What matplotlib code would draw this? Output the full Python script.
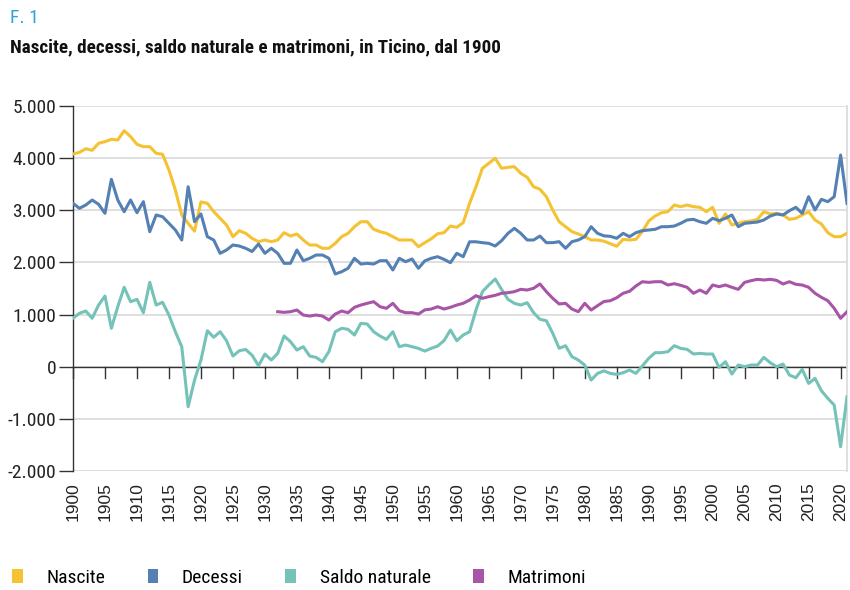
import matplotlib
matplotlib.use("Agg")
import matplotlib.pyplot as plt
from matplotlib import font_manager as fm
from matplotlib.font_manager import FontProperties
from matplotlib.patches import Patch

years = list(range(1900, 2022))

nascite = [4080, 4110, 4180, 4150, 4285, 4316, 4361, 4348, 4527, 4412,
           4265, 4220, 4220, 4093, 4074, 3773, 3389, 2910, 2750, 2600,
           3160, 3134, 2973, 2846, 2718, 2493, 2608, 2558, 2463, 2398,
           2430, 2398, 2430, 2570, 2506, 2545, 2430, 2334, 2334, 2271,
           2271, 2366, 2494, 2558, 2685, 2781, 2781, 2635, 2590, 2558,
           2494, 2430, 2430, 2430, 2302, 2378, 2453, 2550, 2570, 2698,
           2673, 2762, 3134, 3452, 3805, 3901, 3997, 3805, 3825, 3836,
           3709, 3633, 3452, 3403, 3261, 3005, 2781, 2685, 2590, 2545,
           2494, 2430, 2430, 2408, 2360, 2310, 2443, 2430, 2443, 2590,
           2794, 2890, 2954, 2973, 3101, 3069, 3101, 3069, 3057, 2973,
           3057, 2750, 2929, 2718, 2750, 2781, 2794, 2826, 2973, 2929,
           2942, 2910, 2826, 2846, 2910, 2973, 2814, 2737, 2570, 2494,
           2494, 2558]

decessi = [3134, 3038, 3101, 3197, 3115, 2942, 3594, 3197, 2973, 3197,
           2954, 3165, 2590, 2910, 2877, 2750, 2622, 2430, 3452, 2781,
           2929, 2494, 2430, 2175, 2238, 2334, 2315, 2270, 2210, 2353,
           2175, 2271, 2175, 1983, 1983, 2238, 2033, 2079, 2142, 2142,
           2079, 1778, 1822, 1887, 2079, 1970, 1983, 1970, 2033, 2033,
           1855, 2079, 2014, 2066, 1887, 2030, 2079, 2110, 2059, 1995,
           2175, 2110, 2396, 2396, 2379, 2366, 2315, 2417, 2558, 2654,
           2558, 2430, 2430, 2506, 2379, 2379, 2398, 2271, 2398, 2430,
           2494, 2685, 2558, 2510, 2500, 2463, 2558, 2494, 2570, 2609,
           2622, 2635, 2685, 2685, 2698, 2750, 2814, 2826, 2781, 2750,
           2846, 2801, 2846, 2910, 2685, 2750, 2762, 2775, 2814, 2890,
           2929, 2910, 2992, 3057, 2942, 3261, 3005, 3210, 3165, 3261,
           4060, 3134]

saldo = [929, 1024, 1069, 929, 1183, 1356, 737, 1151, 1523, 1247,
         1292, 1036, 1619, 1183, 1235, 991, 671, 384, -767, -256,
         128, 690, 564, 671, 499, 205, 307, 330, 220, 20,
         243, 128, 256, 589, 480, 320, 384, 205, 179, 96,
         288, 671, 737, 717, 608, 832, 819, 671, 589, 525,
         671, 384, 416, 384, 352, 300, 352, 397, 499, 704,
         499, 608, 671, 1087, 1439, 1567, 1682, 1484, 1292, 1216,
         1183, 1228, 1036, 909, 882, 640, 352, 403, 192, 128,
         32, -256, -128, -80, -128, -147, -115, -64, -128, 13,
         160, 269, 269, 288, 403, 352, 333, 244, 256, 244,
         244, -13, 96, -141, 32, 0, 32, 32, 179, 77,
         0, 51, -160, -211, -51, -320, -224, -460, -608, -735,
         -1534, -576]

matr_years = list(range(1932, 2022))
matrimoni = [1055, 1043, 1055, 1087, 991, 972, 991, 972, 895, 1010,
             1068, 1036, 1139, 1183, 1216, 1247, 1151, 1120, 1216, 1075,
             1036, 1036, 1010, 1090, 1106, 1151, 1106, 1139, 1183, 1216,
             1279, 1362, 1312, 1343, 1369, 1408, 1420, 1439, 1484, 1471,
             1504, 1587, 1439, 1312, 1203, 1216, 1106, 1055, 1216, 1087,
             1170, 1250, 1266, 1323, 1408, 1446, 1548, 1630, 1618, 1630,
             1630, 1567, 1592, 1561, 1523, 1408, 1471, 1408, 1567, 1535,
             1567, 1523, 1484, 1618, 1650, 1676, 1663, 1676, 1656, 1586,
             1630, 1580, 1567, 1523, 1408, 1331, 1266, 1120, 928, 1055]

series_names = ["Nascite", "Decessi", "Saldo naturale", "Matrimoni"]
colors = ["#F4C232", "#5480B4", "#74C2B8", "#A855A8"]

yticks = [-2000, -1000, 0, 1000, 2000, 3000, 4000, 5000]
ytick_labels = ["-2.000", "-1.000", "0", "1.000", "2.000", "3.000", "4.000", "5.000"]
xticks = list(range(1900, 2021, 5))


def find_condensed(bold):
    cands = []
    for f in fm.fontManager.ttflist:
        key = (f.name + " " + f.fname).lower()
        st = str(f.stretch).lower()
        if ("condensed" in key or "narrow" in key or "condensed" in st) and f.style == "normal":
            w = f.weight if isinstance(f.weight, int) else (700 if "bold" in str(f.weight) else 400)
            if bold and 600 <= w <= 800:
                cands.append(f)
            if not bold and 350 <= w <= 500:
                cands.append(f)
    pref = ["roboto", "liberation", "open sans", "noto sans", "dejavu", "lato", "inter"]
    for p in pref:
        for f in cands:
            if p in f.name.lower() and "extra" not in f.fname.lower() and "semi" not in f.fname.lower():
                return FontProperties(fname=f.fname)
    if cands:
        return FontProperties(fname=cands[0].fname)
    return None


reg = find_condensed(False)
bold = find_condensed(True)
if reg is None:
    reg = FontProperties(family="Liberation Sans")
    reg_scale = 0.88
else:
    reg_scale = 1.0
if bold is None:
    bold = FontProperties(family="Liberation Sans", weight="bold")


def fp(base, size):
    p = base.copy()
    p.set_size(size)
    return p


fig = plt.figure(figsize=(8.5, 5.9), dpi=100)
ax = fig.add_axes([73/850, 1-471/590, (847-73)/850, (471-106)/590])

for yv in yticks:
    ax.axhline(yv, color="#d9d9d9", lw=1.2, zorder=0)

lw = 2.2
ax.plot(years, nascite, color=colors[0], lw=lw, zorder=3, solid_joinstyle="round")
ax.plot(years, decessi, color=colors[1], lw=lw, zorder=4, solid_joinstyle="round")
ax.plot(years, saldo, color=colors[2], lw=lw, zorder=3, solid_joinstyle="round")
ax.plot(matr_years, matrimoni, color=colors[3], lw=lw, zorder=3, solid_joinstyle="round")

ax.set_xlim(1900, 2021)
ax.set_ylim(-2000, 5000)

ax.axhline(0, color="#333333", lw=1.0, zorder=2)
for xt in xticks:
    ax.plot([xt, xt], [0, -215], color="#333333", lw=1.0, zorder=2, clip_on=False)

ax.set_yticks(yticks)
ax.set_yticklabels(ytick_labels, fontproperties=fp(reg, 14 * reg_scale), color="#222222")
ax.tick_params(axis="y", length=10, width=1.0, color="#333333", pad=2)

ax.set_xticks(xticks)
ax.set_xticklabels([str(x) for x in xticks], rotation=90, fontfamily="Liberation Sans",
                   fontsize=12.5, color="#222222")
ax.tick_params(axis="x", length=0, pad=8)

for s in ["top", "bottom"]:
    ax.spines[s].set_visible(False)
ax.spines["right"].set_color("#d9d9d9")
ax.spines["right"].set_linewidth(1.2)
ax.spines["left"].set_color("#333333")
ax.spines["left"].set_linewidth(1.0)

fig.text(10/850, 1-18/590, "F. 1", fontproperties=fp(reg, 14 * reg_scale), color="#29A3DA",
         va="center", ha="left")
title = fig.text(10/850, 1-47/590, "Nascite, decessi, saldo naturale e matrimoni, in Ticino, dal 1900",
                 fontproperties=fp(bold, 14), color="#111111", va="center", ha="left")

renderer = fig.canvas.get_renderer()
w = title.get_window_extent(renderer).width
title.set_fontsize(14 * 495.0 / w)

handles = [Patch(facecolor=c, edgecolor="none") for c in colors]
leg = fig.legend(handles, series_names, loc="center left", bbox_to_anchor=(12/850, 1-578/590),
                 ncol=4, frameon=False, handlelength=0.55, handleheight=0.7,
                 handletextpad=1.2, columnspacing=2.2, borderpad=0, borderaxespad=0,
                 prop=fp(reg, 14 * reg_scale))

fig.savefig("out.png", dpi=100)
